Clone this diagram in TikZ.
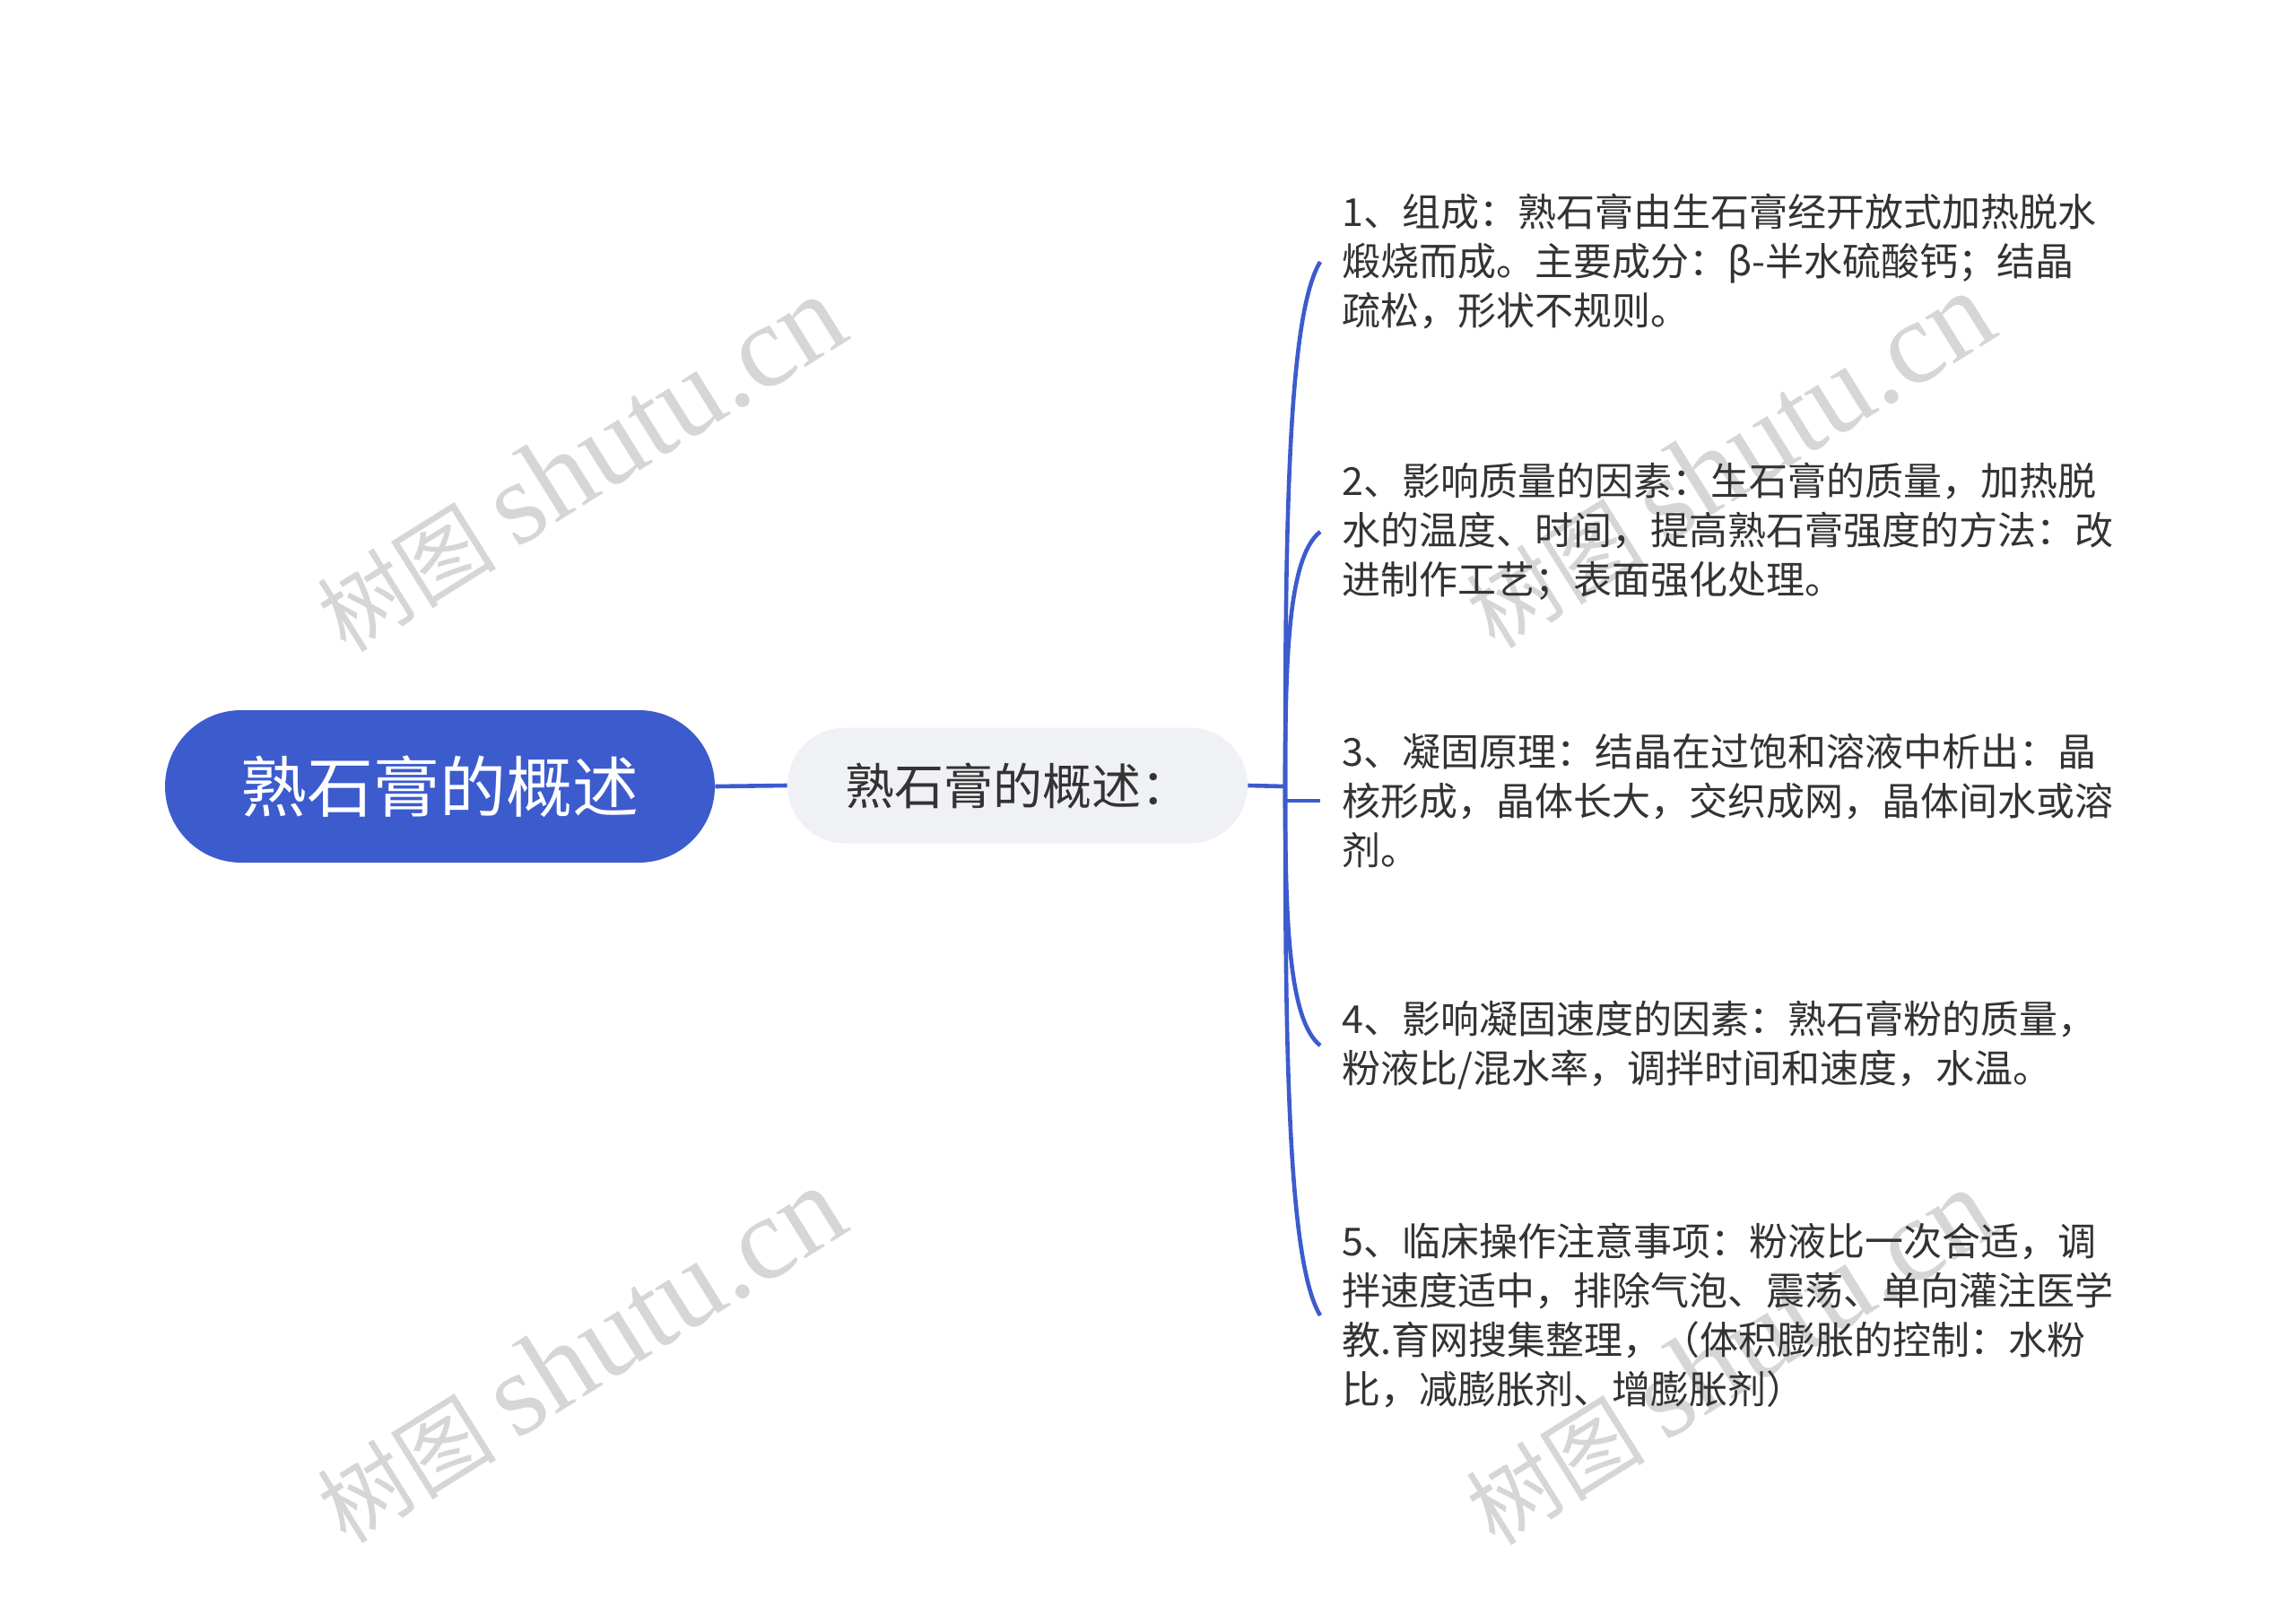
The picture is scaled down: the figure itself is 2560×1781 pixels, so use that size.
\documentclass[tikz,border=0pt]{standalone}
\usepackage{fontspec}
\setmainfont{Noto Sans CJK SC}
\newfontfamily\wmlat{Liberation Serif}
\usetikzlibrary{calc}
\definecolor{mainblue}{HTML}{3C5BCD}
\definecolor{midgray}{HTML}{EFF1F5}
\definecolor{txt}{HTML}{333333}
\definecolor{wmgray}{HTML}{D6D6D6}
\begin{document}
\begin{tikzpicture}[x=0.5pt,y=-0.5pt,
  rootbox/.style={rectangle, rounded corners=42.5pt, fill=mainblue, minimum width=306.5pt, minimum height=85pt, text=white, font=\fontsize{37}{44}\selectfont, inner sep=0pt},
  midbox/.style={rectangle, rounded corners=32.25pt, fill=midgray, minimum width=256.5pt, minimum height=64.5pt, text=txt, font=\fontsize{27.5}{32}\selectfont, inner sep=0pt},
  leaf/.style={anchor=west, align=left, inner sep=0pt, text=txt, font=\fontsize{21.5}{27.5}\selectfont},
  conn/.style={draw=mainblue, line width=2.3pt},
  wm/.style={text=wmgray, rotate=32, inner sep=0pt, font=\fontsize{50}{50}\selectfont}
]
\useasboundingbox[fill=white] (0,0) rectangle (2560,1781);

% watermarks
\node[wm] (wm1) at (647,518) {树图 {\wmlat\fontsize{66}{66}\selectfont shutu.cn}};
\node[wm] (wm2) at (647,1512) {树图 {\wmlat\fontsize{66}{66}\selectfont shutu.cn}};
\node[wm] (wm3) at (1928,514) {树图 {\wmlat\fontsize{66}{66}\selectfont shutu.cn}};
\node[wm] (wm4) at (1928,1514) {树图 {\wmlat\fontsize{66}{66}\selectfont shutu.cn}};

% nodes
\node[rootbox] (root) at (490.5,877) {熟石膏的概述};
\node[midbox] (mid) at (1134.5,876) {熟石膏的概述：};

\node[leaf] (l1) at (1496,292) {1、组成：熟石膏由生石膏经开放式加热脱水\\煅烧而成。主要成分：β-半水硫酸钙；结晶\\疏松，形状不规则。};
\node[leaf] (l2) at (1496,593) {2、影响质量的因素：生石膏的质量，加热脱\\水的温度、时间，提高熟石膏强度的方法：改\\进制作工艺；表面强化处理。};
\node[leaf] (l3) at (1496,893) {3、凝固原理：结晶在过饱和溶液中析出：晶\\核形成，晶体长大，交织成网，晶体间水或溶\\剂。};
\node[leaf] (l4) at (1496,1166) {4、影响凝固速度的因素：熟石膏粉的质量，\\粉液比/混水率，调拌时间和速度，水温。};
\node[leaf] (l5) at (1496,1467) {5、临床操作注意事项：粉液比一次合适，调\\拌速度适中，排除气泡、震荡、单向灌注医学\\教.育网搜集整理，（体积膨胀的控制：水粉\\比，减膨胀剂、增膨胀剂）};

% connectors
\coordinate (trunk) at (1433,877);
\foreach \i in {1,...,5} {\coordinate (e\i) at ([xshift=-12pt]l\i.west);}
\draw[conn] (root.east) -- (mid.west);
\draw[conn] (mid.east) -- (trunk);
\foreach \i in {1,2,4,5} {
  \draw[conn] (trunk) .. controls ($(trunk|-e\i)!0.5!(trunk)$) and ($(trunk|-e\i)!0.1!(trunk)+(3,0)$) .. (e\i);
}
\draw[conn] (trunk) -- (trunk|-e3) -- (e3);
\end{tikzpicture}
\end{document}
